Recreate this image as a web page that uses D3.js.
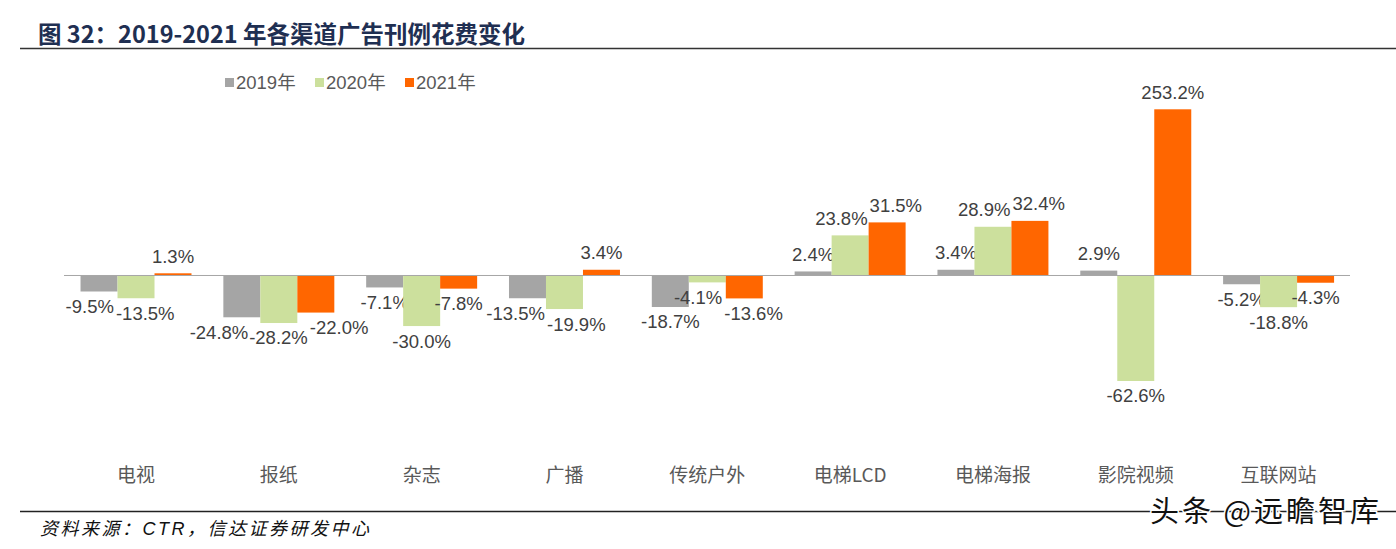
<!DOCTYPE html>
<html>
<head>
<meta charset="utf-8">
<script src="https://cdn.jsdelivr.net/npm/d3@7"></script>
<style>
  body { margin: 0; background: #fff; }
  svg { display: block; font-family: "Liberation Sans", Arial, "Noto Sans CJK SC", sans-serif; }
</style>
</head>
<body>
<svg id="chart" width="1396" height="549"></svg>
<script>
// data
var categories = ["电视", "报纸", "杂志", "广播", "传统户外", "电梯LCD", "电梯海报", "影院视频", "互联网站"];
var seriesNames = ["2019年", "2020年", "2021年"];
var v2019 = [-9.5, -24.8, -7.1, -13.5, -18.7, 2.4, 3.4, 2.9, -5.2];
var v2020 = [-13.5, -28.2, -30.0, -19.9, -4.1, 23.8, 28.9, -62.6, -18.8];
var v2021 = [1.3, -22.0, -7.8, 3.4, -13.6, 31.5, 32.4, 253.2, -4.3];
var colors = ["#A5A5A5", "#CCE09D", "#FF6600"];

var svg = d3.select("#chart");
var cjk = '"Noto Sans CJK SC", sans-serif';

// title
svg.append("text")
    .attr("x", 38)
    .attr("y", 43)
    .attr("font-family", cjk)
    .attr("font-weight", "bold")
    .attr("font-size", 23.5)
    .attr("fill", "#1F2F52")
    .text("图 32：2019-2021 年各渠道广告刊例花费变化");
svg.append("line")
    .attr("x1", 20).attr("x2", 1396)
    .attr("y1", 48.5).attr("y2", 48.5)
    .attr("stroke", "#333").attr("stroke-width", 1.5);

var rows = categories.map(function(c, i) {
    return {cat: c, vals: [v2019[i], v2020[i], v2021[i]]};
});

var x0 = d3.scaleBand()
    .domain(categories)
    .range([64.6, 1350])
    .paddingInner(0.223)
    .paddingOuter(0.1115);

var x1 = d3.scaleBand()
    .domain(d3.range(seriesNames.length))
    .range([0, x0.bandwidth()]);

// the 253.2% bar is cut off at the top of the plot, as in the original
var y = d3.scaleLinear()
    .domain([-62.6, 98.6])
    .range([381, 109.3])
    .clamp(true);

var g = svg.append("g");

var groups = g.selectAll("g.cat")
    .data(rows)
    .enter().append("g")
    .attr("class", "cat")
    .attr("transform", function(d) { return "translate(" + x0(d.cat) + ",0)"; });

var bars = groups.selectAll("g.bar")
    .data(function(d) { return d.vals.map(function(v, k) { return {v: v, k: k}; }); })
    .enter().append("g")
    .attr("class", "bar");

bars.append("rect")
    .attr("x", function(d) { return x1(d.k); })
    .attr("width", x1.bandwidth())
    .attr("y", function(d) { return Math.min(y(d.v), y(0)); })
    .attr("height", function(d) { return Math.abs(y(d.v) - y(0)); })
    .attr("fill", function(d) { return colors[d.k]; });

// zero line
g.append("line")
    .attr("x1", 64).attr("x2", 1350)
    .attr("y1", y(0)).attr("y2", y(0))
    .attr("stroke", "#A6A6A6").attr("stroke-width", 1);

bars.append("text")
    .attr("class", "lbl")
    .attr("x", function(d) { return x1(d.k) + x1.bandwidth() / 2; })
    .attr("y", function(d) { return d.v >= 0 ? y(d.v) - 17 : y(d.v) + 15; })
    .attr("dy", "0.35em")
    .attr("text-anchor", "middle")
    .attr("font-size", 18.5)
    .attr("fill", "#404040")
    .text(function(d) { return d.v.toFixed(1) + "%"; });

// push neighbouring labels apart a little when they collide
groups.each(function() {
    var lbls = d3.select(this).selectAll("text.lbl").nodes();
    for (var pass = 0; pass < 6; pass++) {
        for (var i = 0; i < lbls.length - 1; i++) {
            var a = lbls[i].getBBox(), b = lbls[i + 1].getBBox();
            var vOver = Math.min(a.y + a.height, b.y + b.height) - Math.max(a.y, b.y);
            var hOver = a.x + a.width - b.x;
            if (vOver > 4 && hOver > 0) {
                var s = hOver / 2 + 1;
                d3.select(lbls[i]).attr("x", +d3.select(lbls[i]).attr("x") - s);
                d3.select(lbls[i + 1]).attr("x", +d3.select(lbls[i + 1]).attr("x") + s);
            }
        }
    }
});

// category labels
g.selectAll("text.cat")
    .data(categories)
    .enter().append("text")
    .attr("class", "cat")
    .attr("x", function(d) { return x0(d) + x0.bandwidth() / 2; })
    .attr("y", 475)
    .attr("dy", "0.35em")
    .attr("text-anchor", "middle")
    .attr("font-family", cjk)
    .attr("font-size", 19)
    .attr("fill", "#595959")
    .text(function(d) { return d; });

// legend
var legend = svg.append("g")
    .selectAll("g")
    .data(seriesNames)
    .enter().append("g")
    .attr("transform", function(d, i) { return "translate(" + (225 + i * 90) + ",83)"; });

legend.append("rect")
    .attr("x", 0).attr("y", -5)
    .attr("width", 9).attr("height", 9)
    .attr("fill", function(d, i) { return colors[i]; });

legend.append("text")
    .attr("x", 11)
    .attr("dy", "0.35em")
    .attr("font-size", 18.5)
    .attr("fill", "#595959")
    .text(function(d) { return d; });

// footer
svg.append("line")
    .attr("x1", 20).attr("x2", 1396)
    .attr("y1", 511.5).attr("y2", 511.5)
    .attr("stroke", "#222").attr("stroke-width", 1.5);
svg.append("text")
    .attr("x", 40)
    .attr("y", 535)
    .attr("font-size", 18)
    .attr("font-style", "italic")
    .attr("letter-spacing", 2.5)
    .attr("fill", "#111")
    .text("资料来源：CTR，信达证券研发中心");

// watermark
svg.append("text")
    .attr("x", 1382)
    .attr("y", 522)
    .attr("text-anchor", "end")
    .attr("font-family", cjk)
    .attr("font-size", 29)
    .attr("letter-spacing", 3)
    .attr("fill", "#111")
    .attr("stroke", "#fff")
    .attr("stroke-width", 3)
    .attr("paint-order", "stroke")
    .text("头条 @远瞻智库");
</script>
</body>
</html>
